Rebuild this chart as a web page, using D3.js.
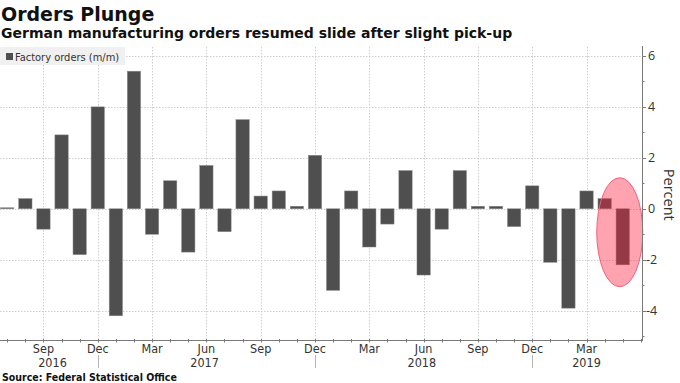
<!DOCTYPE html>
<html>
<head>
<meta charset="utf-8">
<script src="https://cdn.jsdelivr.net/npm/d3@7"></script>
<style>
  html, body { margin: 0; padding: 0; background: #fff; }
  svg { display: block; }
</style>
</head>
<body>
<svg id="chart" width="680" height="383"></svg>
<script>
// ---- Data ----
const months = [
  "2016-07","2016-08","2016-09","2016-10","2016-11","2016-12",
  "2017-01","2017-02","2017-03","2017-04","2017-05","2017-06",
  "2017-07","2017-08","2017-09","2017-10","2017-11","2017-12",
  "2018-01","2018-02","2018-03","2018-04","2018-05","2018-06",
  "2018-07","2018-08","2018-09","2018-10","2018-11","2018-12",
  "2019-01","2019-02","2019-03","2019-04","2019-05"
];
const factoryOrders = [
  0.04, 0.4, -0.8, 2.9, -1.8, 4.0,
  -4.2, 5.4, -1.0, 1.1, -1.7, 1.7,
  -0.9, 3.5, 0.5, 0.7, 0.1, 2.1,
  -3.2, 0.7, -1.5, -0.6, 1.5, -2.6,
  -0.8, 1.5, 0.1, 0.1, -0.7, 0.9,
  -2.1, -3.9, 0.7, 0.4, -2.2
];
const axisMonths = months.concat(["2019-06"]);
const monthTickLabels = ["Sep","Dec","Mar","Jun","Sep","Dec","Mar","Jun","Sep","Dec","Mar"];
const monthTickDates = ["2016-09","2016-12","2017-03","2017-06","2017-09","2017-12","2018-03","2018-06","2018-09","2018-12","2019-03"];
const yearLabels = ["2016","2017","2018","2019"];
const yearLabelAt = [2.5, 10.9, 22.9, 32]; // month index positions
const yearSeparators = ["2016-12","2017-12","2018-12"];
const yTicks = [-4, -2, 0, 2, 4, 6];
const yMinorTicks = [-5, -3, -1, 1, 3, 5];
const highlightMonth = "2019-05";

const title = "Orders Plunge";
const subtitle = "German manufacturing orders resumed slide after slight pick-up";
const legendLabel = "Factory orders (m/m)";
const source = "Source:  Federal Statistical Office";

// ---- Layout ----
const svg = d3.select("#chart");
const plotLeft = 0, plotRight = 642, plotTop = 47, plotBottom = 340;

const x = d3.scaleBand()
  .domain(axisMonths)
  .range([-1.75, -1.75 + 18.1 * axisMonths.length])
  .paddingInner(0.265)
  .paddingOuter(0.13);
const xc = m => x(m) + x.bandwidth() / 2;
const xi = i => xc(axisMonths[0]) + i * x.step();

const y = d3.scaleLinear().domain([-5.15, 6.35]).range([plotBottom, plotTop]);

const gridColor = "#cfcfcf";
const textColor = "#333";
const axisColor = "#7a7a7a";

// clip
svg.append("defs").append("clipPath").attr("id", "plotclip")
  .append("rect").attr("x", plotLeft).attr("y", plotTop - 2)
  .attr("width", plotRight - plotLeft).attr("height", plotBottom - plotTop + 2);

// Gridlines
const grid = svg.append("g");
grid.selectAll(".hg").data(yTicks).join("line")
  .attr("x1", plotLeft).attr("x2", plotRight)
  .attr("y1", d => Math.round(y(d)) + 0.5).attr("y2", d => Math.round(y(d)) + 0.5)
  .attr("stroke", gridColor).attr("stroke-width", 1).attr("stroke-dasharray", "1.5,1.5");
grid.selectAll(".vg").data(monthTickDates).join("line")
  .attr("x1", d => Math.round(xc(d)) + 0.5).attr("x2", d => Math.round(xc(d)) + 0.5)
  .attr("y1", plotTop).attr("y2", plotBottom)
  .attr("stroke", gridColor).attr("stroke-width", 1).attr("stroke-dasharray", "1.5,1.5");

// Bars
svg.append("g").attr("clip-path", "url(#plotclip)")
  .selectAll("rect").data(months.map((m, i) => ({ m, v: factoryOrders[i] }))).join("rect")
  .attr("x", d => x(d.m))
  .attr("width", x.bandwidth())
  .attr("y", d => y(Math.max(0, d.v)))
  .attr("height", d => Math.max(1, Math.abs(y(d.v) - y(0))))
  .attr("fill", "#4f4f4f")
  .attr("stroke", "#8a8a8a")
  .attr("stroke-width", 0.5);

// Highlight ellipse
svg.append("ellipse")
  .attr("cx", xc(highlightMonth) - 3)
  .attr("cy", y(-0.92))
  .attr("rx", 23)
  .attr("ry", 54.5)
  .attr("fill", "rgb(255,25,57)")
  .attr("fill-opacity", 0.4)
  .attr("stroke", "#f2607a")
  .attr("stroke-width", 1);

// Right axis
const yAxis = svg.append("g");
yAxis.append("line")
  .attr("x1", plotRight + 0.5).attr("x2", plotRight + 0.5)
  .attr("y1", plotTop - 1).attr("y2", plotBottom + 1)
  .attr("stroke", axisColor).attr("stroke-width", 1);
yAxis.selectAll(".mt").data(yTicks).join("line")
  .attr("x1", plotRight).attr("x2", plotRight + 4)
  .attr("y1", d => Math.round(y(d)) + 0.5).attr("y2", d => Math.round(y(d)) + 0.5)
  .attr("stroke", axisColor);
yAxis.selectAll(".nt").data(yMinorTicks).join("line")
  .attr("x1", plotRight).attr("x2", plotRight + 2.5)
  .attr("y1", d => Math.round(y(d)) + 0.5).attr("y2", d => Math.round(y(d)) + 0.5)
  .attr("stroke", axisColor);
yAxis.selectAll("text").data(yTicks).join("text")
  .attr("x", d => d < 0 ? plotRight + 4 : plotRight + 6)
  .attr("y", d => y(d))
  .attr("dy", "0.36em")
  .attr("font-family", "'Open Sans', 'DejaVu Sans', sans-serif")
  .attr("font-size", 12.5)
  .attr("fill", textColor)
  .text(d => d < 0 ? "-" + Math.abs(d) : d);

svg.append("text")
  .attr("transform", `translate(${plotRight + 22},${y(0.55)}) rotate(90)`)
  .attr("text-anchor", "middle")
  .attr("font-family", "'Open Sans', 'DejaVu Sans', sans-serif")
  .attr("font-size", 14.5)
  .attr("fill", textColor)
  .text("Percent");

// Bottom axis
const xAxis = svg.append("g");
xAxis.append("line")
  .attr("x1", plotLeft).attr("x2", plotRight + 1)
  .attr("y1", plotBottom + 0.5).attr("y2", plotBottom + 0.5)
  .attr("stroke", axisColor);
xAxis.selectAll(".xt").data(axisMonths).join("line")
  .attr("x1", d => Math.round(xc(d)) + 0.5).attr("x2", d => Math.round(xc(d)) + 0.5)
  .attr("y1", plotBottom - 1).attr("y2", plotBottom + 2.5)
  .attr("stroke", axisColor);
xAxis.selectAll(".ml").data(monthTickDates).join("text")
  .attr("x", d => xc(d))
  .attr("y", plotBottom + 13)
  .attr("text-anchor", "middle")
  .attr("font-family", "'DejaVu Sans Condensed', 'DejaVu Sans', sans-serif")
  .attr("font-stretch", "condensed")
  .attr("font-size", 12.5)
  .attr("fill", textColor)
  .text((d, i) => monthTickLabels[i]);
xAxis.selectAll(".yl").data(yearLabels).join("text")
  .attr("x", (d, i) => xi(yearLabelAt[i]))
  .attr("y", plotBottom + 26.5)
  .attr("text-anchor", "middle")
  .attr("font-family", "'DejaVu Sans Condensed', 'DejaVu Sans', sans-serif")
  .attr("font-stretch", "condensed")
  .attr("font-size", 12.5)
  .attr("fill", textColor)
  .text(d => d);
xAxis.selectAll(".ys").data(yearSeparators).join("line")
  .attr("x1", d => Math.round(xc(d)) + 0.5).attr("x2", d => Math.round(xc(d)) + 0.5)
  .attr("y1", plotBottom + 15).attr("y2", plotBottom + 28)
  .attr("stroke", "#b5b5b5");

// Legend
const lg = svg.append("g");
lg.append("rect").attr("x", 0).attr("y", 47).attr("width", 125).attr("height", 18)
  .attr("fill", "#f0f0f0");
lg.append("rect").attr("x", 6).attr("y", 53).attr("width", 7).attr("height", 7)
  .attr("fill", "#4f4f4f");
lg.append("text").attr("x", 15).attr("y", 60.5)
  .attr("font-family", "'DejaVu Sans Condensed', 'DejaVu Sans', sans-serif")
  .attr("font-stretch", "condensed")
  .attr("font-size", 11)
  .attr("fill", textColor)
  .text(legendLabel);

// Titles
svg.append("text").attr("x", 1).attr("y", 20.7)
  .attr("font-family", "'DejaVu Sans', sans-serif").attr("font-weight", "bold")
  .attr("font-size", 19).attr("fill", "#111").text(title);
svg.append("text").attr("x", 1).attr("y", 38)
  .attr("font-family", "'DejaVu Sans', sans-serif").attr("font-weight", "bold")
  .attr("font-size", 14).attr("fill", "#111").text(subtitle);

// Source
svg.append("text").attr("x", 2).attr("y", 380.5)
  .attr("font-family", "'DejaVu Sans Condensed', 'DejaVu Sans', sans-serif")
  .attr("font-stretch", "condensed").attr("font-weight", "bold")
  .attr("font-size", 10.5).attr("fill", "#111").text(source);
</script>
</body>
</html>
